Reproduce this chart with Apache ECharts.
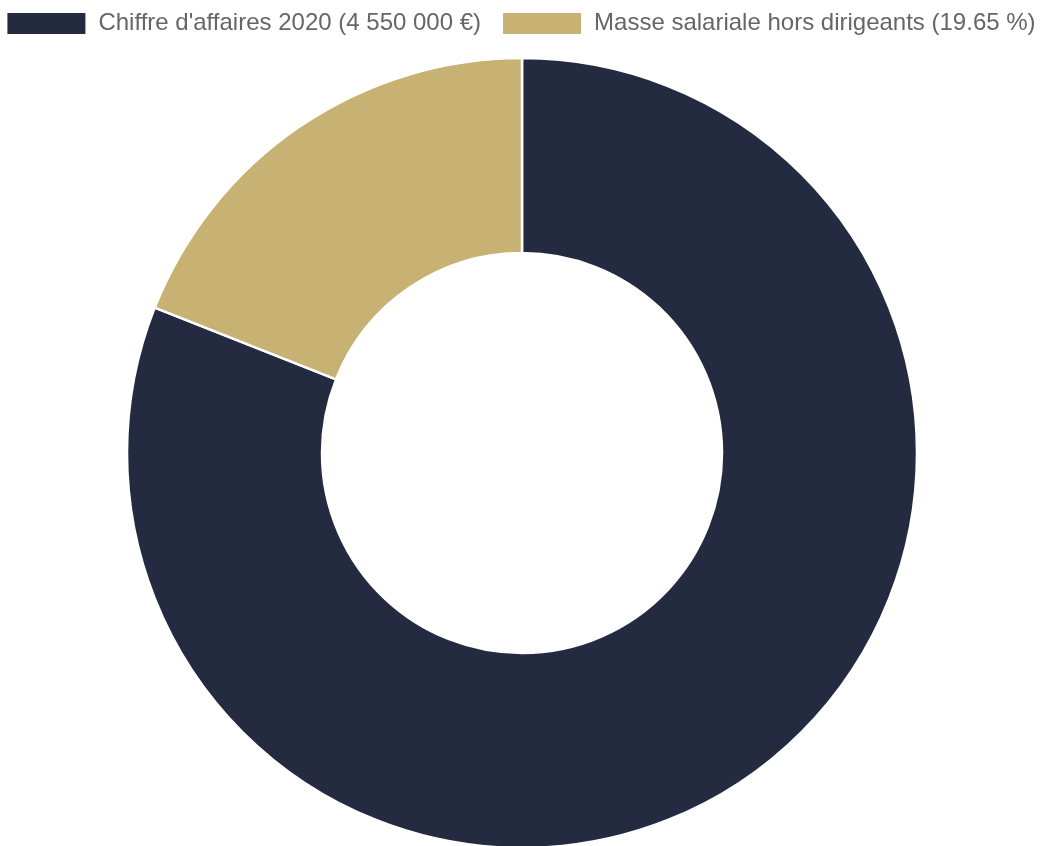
<!DOCTYPE html>
<html>
<head>
<meta charset="utf-8">
<script src="https://cdn.jsdelivr.net/npm/echarts@6/dist/echarts.min.js"></script>
<style>
  html, body { margin: 0; padding: 0; background: #fff; }
  #chart { width: 1041px; height: 846px; }
</style>
</head>
<body>
<div id="chart"></div>
<script>
// données du graphique
const labels = ["Chiffre d'affaires 2020 (4 550 000 €)", 'Masse salariale hors dirigeants (19.65 %)'];
const shares = [81, 19];
const colors = ['#242a40', '#c7b274'];

const chart = echarts.init(document.getElementById('chart'));

chart.setOption({
  animation: false,
  color: colors,
  legend: {
    top: 11,
    left: 'center',
    padding: 0,
    itemWidth: 80,
    itemHeight: 23,
    itemGap: 20,
    icon: 'rect',
    textStyle: {
      color: '#666',
      fontSize: 24,
      lineHeight: 23,
      padding: [0, 0, 0, 7],
      fontFamily: 'Liberation Sans, Arial, sans-serif'
    },
    data: labels
  },
  series: [{
    type: 'pie',
    center: [522, 453],
    radius: [200, 395],
    startAngle: 90,
    clockwise: true,
    label: { show: false },
    labelLine: { show: false },
    itemStyle: { borderColor: '#fff', borderWidth: 2.5 },
    data: labels.map((name, i) => ({ name, value: shares[i] }))
  }]
});
</script>
</body>
</html>
